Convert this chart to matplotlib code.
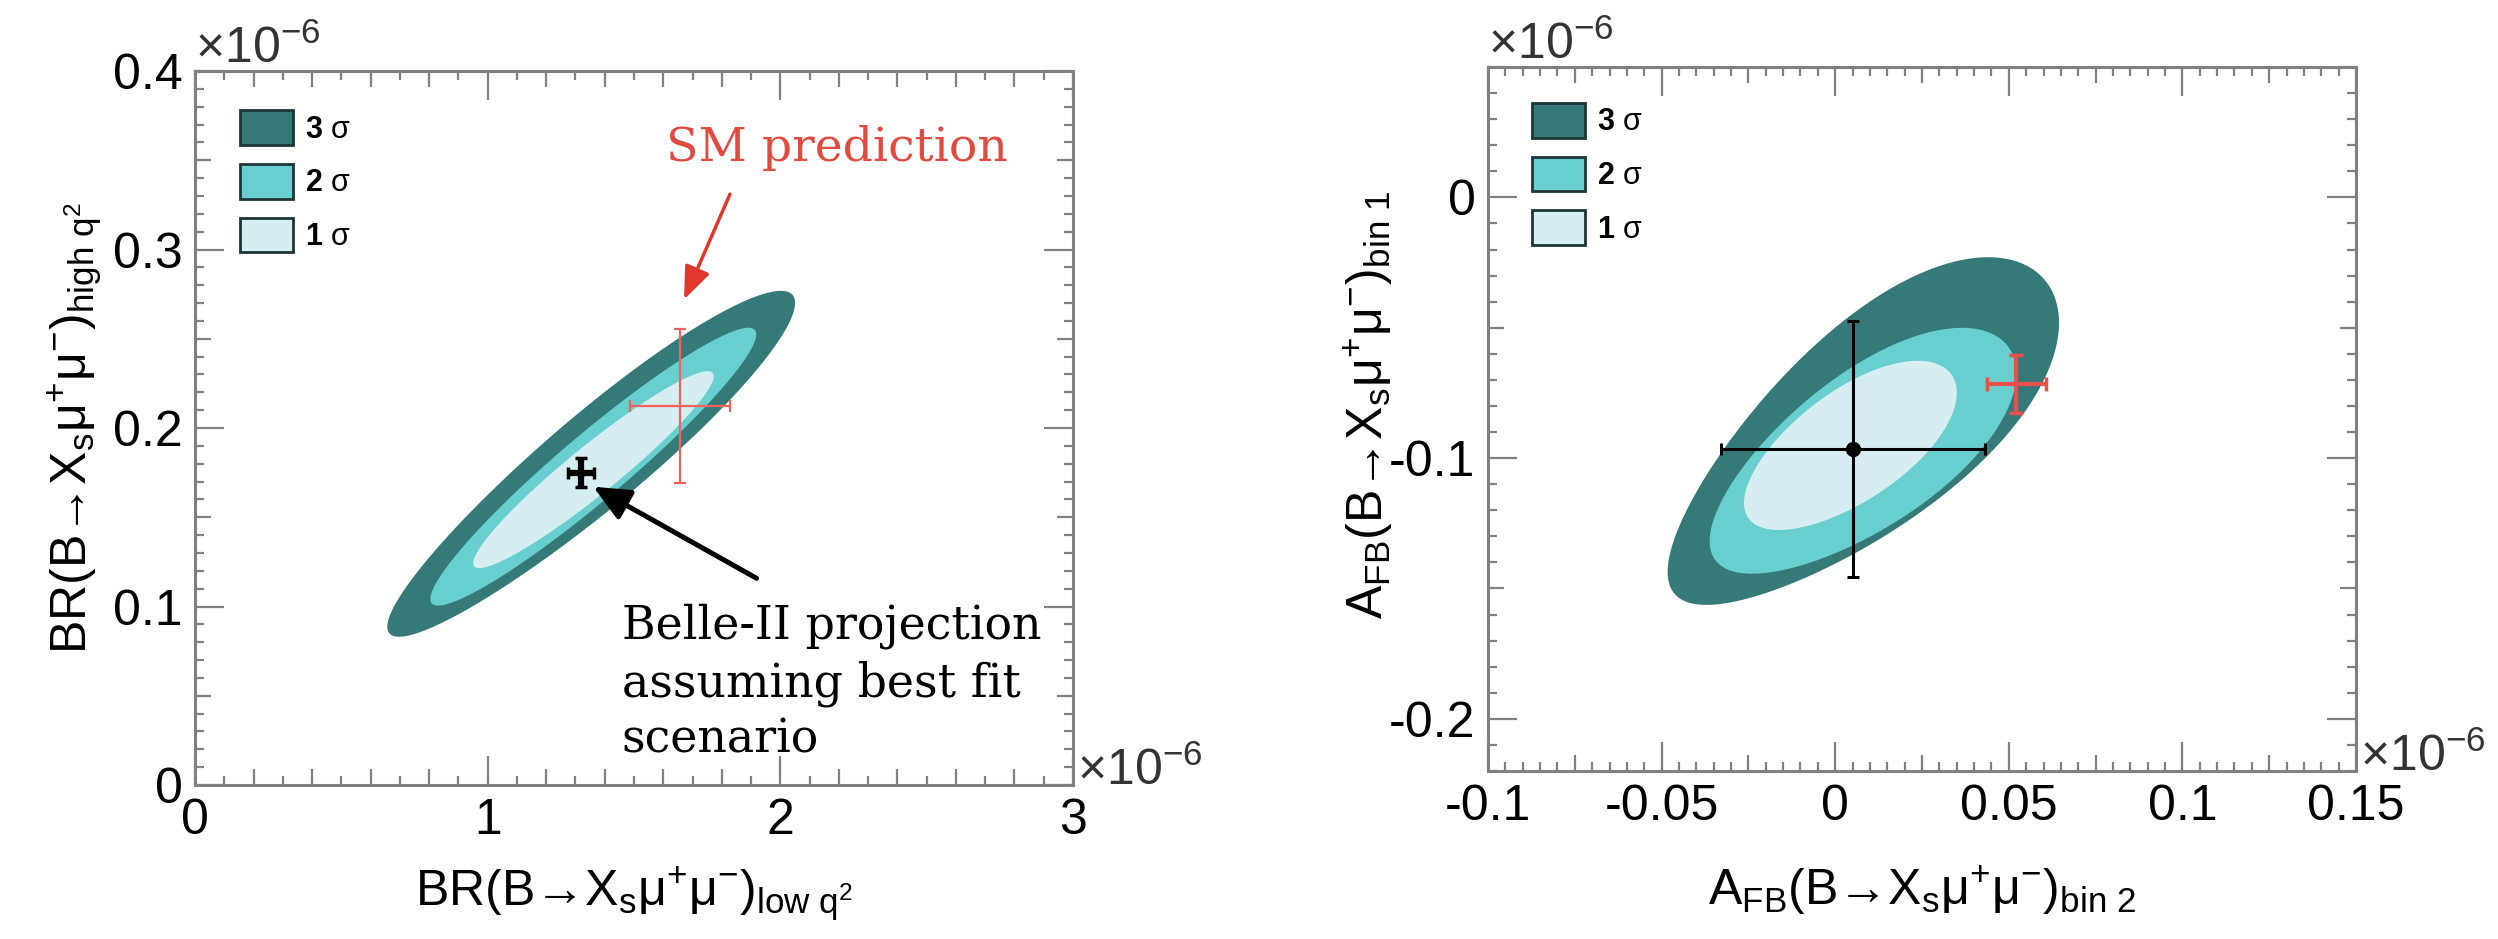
import numpy as np
import matplotlib
matplotlib.use("Agg")
import matplotlib.pyplot as plt
from matplotlib.patches import Patch
from matplotlib.ticker import MultipleLocator, FuncFormatter

plt.rcParams['font.family'] = ['Liberation Sans', 'DejaVu Sans']
plt.rcParams['mathtext.fontset'] = 'custom'
plt.rcParams['mathtext.rm'] = 'Liberation Sans'
plt.rcParams['mathtext.it'] = 'Liberation Sans:italic'
plt.rcParams['mathtext.bf'] = 'Liberation Sans:bold'
plt.rcParams['axes.unicode_minus'] = False

# ---- data (all values in units of 1e-6) ----
sigma_names = ["3", "2", "1"]

# left: BR low q2 vs BR high q2 ; contours given by their long-axis end points
br_lo_x = [0.664, 0.809, 0.954]
br_lo_y = [0.085, 0.1018, 0.1225]
br_hi_x = [2.042, 1.913, 1.769]
br_hi_y = [0.2745, 0.2549, 0.2308]
br_halfw = [0.066, 0.046, 0.034]   # half thickness, fraction of axes height
br_egg = [0.05, 0.0, 0.0]
br_belle = [1.32, 0.175]
br_belle_err = [0.045, 0.008]
br_sm = [1.657, 0.2123]
br_sm_err = [0.17, 0.043]

# right: AFB bin 2 vs AFB bin 1
afb_lo_x = [-0.0463, -0.0346, -0.025]
afb_lo_y = [-0.152, -0.139, -0.123]
afb_hi_x = [0.0603, 0.0499, 0.0335]
afb_hi_y = [-0.0316, -0.0574, -0.068]
afb_halfw = [0.138, 0.108, 0.078]
afb_egg = [0.2, 0.1, 0.05]
afb_belle = [0.0052, -0.0966]
afb_belle_err = [0.038, 0.049]
afb_sm = [0.0521, -0.0716]
afb_sm_err = [0.0085, 0.011]

colors = ['#357a78', '#69cfce', '#d6eef2']
frame = '#808080'

fig = plt.figure(figsize=(24.98, 9.39), dpi=100)
ax1 = fig.add_axes([0.07806, 0.16400, 0.35148, 0.76038])
ax2 = fig.add_axes([0.59568, 0.17891, 0.34748, 0.74973])
ax1.set_xlim(0, 3)
ax1.set_ylim(0, 0.4)
ax2.set_xlim(-0.1, 0.15)
ax2.set_ylim(-0.22, 0.05)


def draw_region(ax, lo, hi, halfw, egg, color):
    # ellipse built in screen space so the thickness is not distorted by the axis scales
    p_lo = ax.transData.transform(lo)
    p_hi = ax.transData.transform(hi)
    c = (p_lo + p_hi) / 2
    axis = (p_hi - p_lo) / 2
    a = np.hypot(*axis)
    u = axis / a
    v = np.array([-u[1], u[0]])
    b = halfw * ax.bbox.height
    t = np.linspace(0, 2 * np.pi, 400)
    pts = c + np.outer(a * np.cos(t), u) + np.outer(b * np.sin(t) * (1 + egg * np.cos(t)), v)
    d = ax.transData.inverted().transform(pts)
    ax.fill(d[:, 0], d[:, 1], color=color, lw=0, zorder=1)


def style_axis(ax, xmaj, xmed, xmin, ymaj, ymed, ymin):
    ax.xaxis.set_major_locator(MultipleLocator(xmaj))
    ax.xaxis.set_minor_locator(MultipleLocator(xmin))
    ax.yaxis.set_major_locator(MultipleLocator(ymaj))
    ax.yaxis.set_minor_locator(MultipleLocator(ymin))
    fmt = FuncFormatter(lambda v, p: f'{round(v, 6) + 0:g}')
    ax.xaxis.set_major_formatter(fmt)
    ax.yaxis.set_major_formatter(fmt)
    for s in ax.spines.values():
        s.set_color(frame)
        s.set_linewidth(2.2)
    ax.tick_params(which='both', direction='in', top=True, right=True,
                   color=frame, width=1.6, labelsize=36)
    ax.tick_params(which='major', length=21)
    ax.tick_params(which='minor', length=6.5)
    ax.tick_params(axis='x', pad=9)
    ax.tick_params(axis='y', pad=9)
    for axis, med in ((ax.xaxis, xmed), (ax.yaxis, ymed)):
        locs = axis.get_minorticklocs()
        for tick, loc in zip(axis.get_minor_ticks(len(locs)), locs):
            if abs(loc / med - round(loc / med)) < 1e-6:
                tick.tick1line.set_markersize(11.5)
                tick.tick2line.set_markersize(11.5)


style_axis(ax1, 1, 0.2, 0.1, 0.1, 0.05, 0.01)
style_axis(ax2, 0.05, 0.025, 0.005, 0.1, 0.05, 0.01)

for i in range(3):
    draw_region(ax1, (br_lo_x[i], br_lo_y[i]), (br_hi_x[i], br_hi_y[i]),
                br_halfw[i], br_egg[i], colors[i])
    draw_region(ax2, (afb_lo_x[i], afb_lo_y[i]), (afb_hi_x[i], afb_hi_y[i]),
                afb_halfw[i], afb_egg[i], colors[i])

# measurements
ax1.errorbar([br_sm[0]], [br_sm[1]], xerr=[br_sm_err[0]], yerr=[br_sm_err[1]],
             fmt='none', ecolor='#f0625b', elinewidth=1.6, capsize=4, capthick=1.6, zorder=3)
ax1.errorbar([br_belle[0]], [br_belle[1]], xerr=[br_belle_err[0]], yerr=[br_belle_err[1]],
             fmt='o', color='black', ms=5, elinewidth=4.5, capsize=4, capthick=2.5, zorder=4)
ax2.errorbar([afb_belle[0]], [afb_belle[1]], xerr=[afb_belle_err[0]], yerr=[afb_belle_err[1]],
             fmt='o', color='black', ms=10, elinewidth=2.2, capsize=4, capthick=2.2, zorder=4)
ax2.errorbar([afb_sm[0]], [afb_sm[1]], xerr=[afb_sm_err[0]], yerr=[afb_sm_err[1]],
             fmt='none', ecolor='#e8504a', elinewidth=3, capsize=5, capthick=2.5, zorder=3)

# annotations
ax1.annotate('', xy=(1.671, 0.272), xytext=(1.828, 0.331),
             arrowprops=dict(arrowstyle='-|>,head_length=1.0,head_width=0.4', color='#e0372c',
                             lw=2.5, mutation_scale=20, shrinkA=0, shrinkB=0))
ax1.text(1.609, 0.3496, 'SM prediction', color='#e04a3f', family='DejaVu Serif',
         fontsize=34, ha='left', va='baseline')
ax1.annotate('', xy=(1.361, 0.1671), xytext=(1.919, 0.1158),
             arrowprops=dict(arrowstyle='-|>,head_length=1.1,head_width=0.5', color='black',
                             lw=3.6, mutation_scale=20, shrinkA=0, shrinkB=0))
ax1.text(1.458, 0.0571, 'Belle-II projection\nassuming best fit\nscenario', color='black',
         family='DejaVu Serif', fontsize=33, ha='left', va='center', linespacing=1.3)

# legends
for ax, anchor in ((ax1, (0.0513, 0.945)), (ax2, (0.0507, 0.949))):
    handles = [Patch(facecolor=c, edgecolor='#1f3535', lw=2) for c in colors]
    labels = [r'$\mathbf{%s}$ σ' % s for s in sigma_names]
    ax.legend(handles, labels, loc='upper left', bbox_to_anchor=anchor, frameon=False,
              borderpad=0, borderaxespad=0, handlelength=1.73, handleheight=1.37,
              handletextpad=0.4, labelspacing=0.62, fontsize=22)

# axis titles
ax1.set_xlabel(r'BR(B→X$_\mathregular{s}$μ$^\mathregular{+}$μ$^\mathregular{-}$)$_{\mathregular{low\ q}^{2}}$', fontsize=36)
ax1.set_ylabel(r'BR(B→X$_\mathregular{s}$μ$^\mathregular{+}$μ$^\mathregular{-}$)$_{\mathregular{high\ q}^{2}}$', fontsize=36)
ax2.set_xlabel(r'A$_\mathregular{FB}$(B→X$_\mathregular{s}$μ$^\mathregular{+}$μ$^\mathregular{-}$)$_\mathregular{bin\ 2}$', fontsize=36)
ax2.set_ylabel(r'A$_\mathregular{FB}$(B→X$_\mathregular{s}$μ$^\mathregular{+}$μ$^\mathregular{-}$)$_\mathregular{bin\ 1}$', fontsize=36)
ax1.xaxis.set_label_coords(0.5, -0.112)
ax1.yaxis.set_label_coords(-0.104, 0.5)
ax2.xaxis.set_label_coords(0.5, -0.132)
ax2.yaxis.set_label_coords(-0.107, 0.52)

# exponent markers
for ax in (ax1, ax2):
    ax.text(0.0, 1.011, r'×10$^\mathregular{-6}$', transform=ax.transAxes, fontsize=36,
            ha='left', va='baseline', color='#333333')
    ax.text(1.005, 0.0, r'×10$^\mathregular{-6}$', transform=ax.transAxes, fontsize=36,
            ha='left', va='baseline', color='#333333')

fig.savefig('out.png', dpi=100, facecolor='white')
